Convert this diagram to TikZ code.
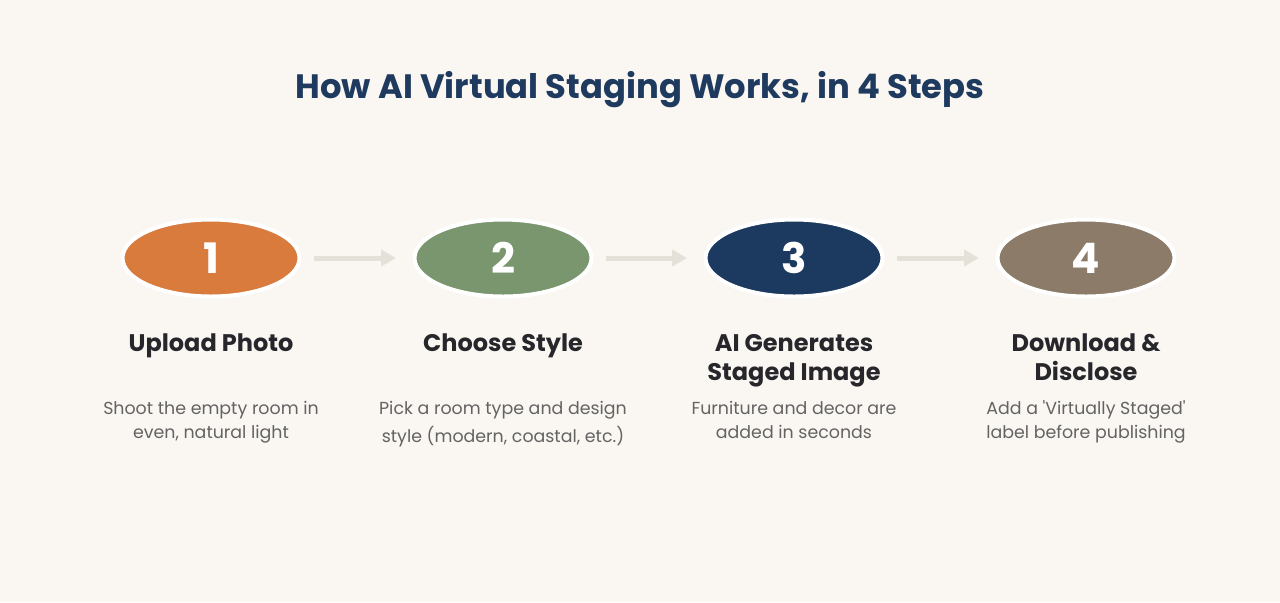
\documentclass[tikz,border=0pt]{standalone}
\usepackage{fontspec}
\setmainfont{Poppins}
\usepackage{tikz}
\usetikzlibrary{shapes.geometric, arrows.meta, positioning}
\usepackage{xcolor}
\definecolor{bgcream}{HTML}{FAF7F2}
\definecolor{headblue}{HTML}{1F3A5F}
\definecolor{titlegray}{HTML}{26262B}
\definecolor{descgray}{HTML}{636363}
\definecolor{arrowgray}{HTML}{E4E1D9}
\definecolor{stepone}{HTML}{D97B3D}
\definecolor{steptwo}{HTML}{7A966E}
\definecolor{stepthree}{HTML}{1C3A5F}
\definecolor{stepfour}{HTML}{8B7B68}

\begin{document}
\begin{tikzpicture}[x=0.5pt,y=-0.5pt,
    stepdot/.style={ellipse,draw=white,line width=2pt,minimum width=88.5pt,minimum height=38.5pt,inner sep=0pt,text=white,font=\fontsize{21}{21}\selectfont\bfseries},
    steptitle/.style={anchor=base,align=center,text=titlegray,font=\fontsize{12}{14.5}\selectfont\bfseries},
    stepdesc/.style={anchor=base,align=center,text=descgray,font=\fontsize{8.7}{12}\selectfont},
    flow/.style={draw=arrowgray,line width=2.5pt,-{Triangle[length=7.5pt,width=8pt]},shorten <=6.25pt,shorten >=8.25pt}]
      \fill[bgcream](0,0)rectangle(1280,602);
      \node[anchor=base,text=headblue,font=\fontsize{16.9}{20}\selectfont\bfseries](head)at(640,98){How AI Virtual Staging Works, in 4 Steps};
      % numbered ellipses
      \node[stepdot,fill=stepone](s1)at(211,258){1};
      \node[stepdot,fill=steptwo](s2)at(503,258){2};
      \node[stepdot,fill=stepthree](s3)at(794,258){3};
      \node[stepdot,fill=stepfour](s4)at(1086,258){4};
      \draw[flow](s1)--(s2);
      \draw[flow](s2)--(s3);
      \draw[flow](s3)--(s4);
      % step titles (base = last line)
      \node[steptitle](t1)at(211,351){Upload Photo};
      \node[steptitle](t2)at(503,351){Choose Style};
      \node[steptitle](t3)at(794,380){AI Generates\\Staged Image};
      \node[steptitle](t4)at(1086,380){Download \&\\Disclose};
      % descriptions
      \node[stepdesc](d1)at(211,438){Shoot the empty room in\\even, natural light};
      \node[stepdesc,font=\fontsize{8.7}{14}\selectfont](d2)at(503,442){Pick a room type and design\\style (modern, coastal, etc.)};
      \node[stepdesc](d3)at(794,438){Furniture and decor are\\added in seconds};
      \node[stepdesc](d4)at(1086,438){Add a \textquotesingle Virtually Staged\textquotesingle\\label before publishing};
\end{tikzpicture}
\end{document}
